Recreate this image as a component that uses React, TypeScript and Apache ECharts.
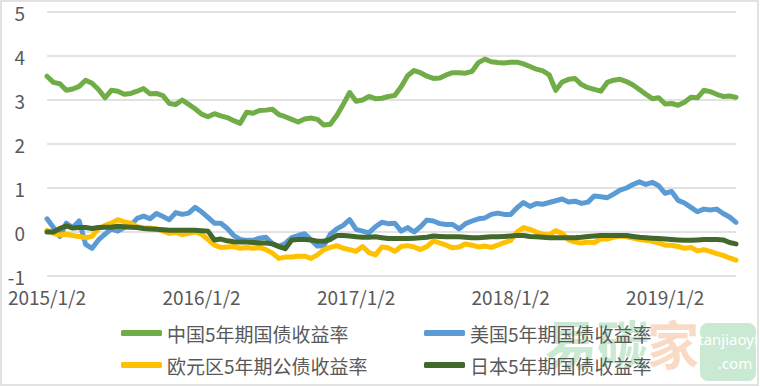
import React, { useEffect, useRef } from "react";
import * as echarts from "echarts";

// Semi-monthly sampling dates (2nd and 16th of each month), 2015/1/2 .. 2019/6/16
const years = [2015, 2016, 2017, 2018, 2019];
const days = [2, 16];
const categories: string[] = [];
for (const y of years) {
  for (let m = 1; m <= 12; m++) {
    for (const d of days) {
      if (categories.length < 108) categories.push(`${y}/${m}/${d}`);
    }
  }
}

const seriesNames = [
  "中国5年期国债收益率",
  "美国5年期国债收益率",
  "欧元区5年期公债收益率",
  "日本5年期国债收益率",
];

const china = [
  3.54, 3.40, 3.37, 3.22, 3.25, 3.31, 3.45, 3.38, 3.24, 3.05,
  3.22, 3.20, 3.13, 3.15, 3.20, 3.26, 3.14, 3.15, 3.10, 2.92,
  2.90, 3.00, 2.90, 2.80, 2.68, 2.62, 2.69, 2.64, 2.60, 2.53,
  2.47, 2.72, 2.70, 2.76, 2.77, 2.79, 2.67, 2.62, 2.56, 2.50,
  2.57, 2.59, 2.56, 2.43, 2.45, 2.65, 2.90, 3.17, 2.97, 3.00,
  3.08, 3.03, 3.04, 3.08, 3.10, 3.30, 3.55, 3.67, 3.62, 3.54,
  3.49, 3.50, 3.57, 3.62, 3.62, 3.61, 3.65, 3.85, 3.93, 3.87,
  3.85, 3.84, 3.86, 3.86, 3.82, 3.76, 3.70, 3.66, 3.57, 3.22,
  3.41, 3.47, 3.49, 3.35, 3.28, 3.24, 3.20, 3.40, 3.45, 3.47,
  3.42, 3.34, 3.24, 3.13, 3.03, 3.05, 2.91, 2.92, 2.88, 2.95,
  3.06, 3.05, 3.22, 3.19, 3.13, 3.08, 3.09, 3.06,
];

const us = [
  0.30, 0.10, -0.10, 0.20, 0.10, 0.25, -0.28, -0.37, -0.18, -0.05,
  0.07, 0.02, 0.10, 0.15, 0.31, 0.36, 0.30, 0.42, 0.35, 0.28,
  0.44, 0.40, 0.43, 0.56, 0.46, 0.33, 0.20, 0.20, 0.08, -0.08,
  -0.17, -0.19, -0.19, -0.14, -0.12, -0.26, -0.33, -0.26, -0.13, -0.08,
  -0.04, -0.18, -0.32, -0.31, -0.05, 0.07, 0.15, 0.28, 0.06, 0.02,
  -0.02, 0.12, 0.22, 0.19, 0.20, 0.02, 0.10, 0.00, 0.12, 0.27,
  0.25, 0.19, 0.17, 0.17, 0.07, 0.19, 0.25, 0.30, 0.32, 0.40,
  0.43, 0.40, 0.40, 0.55, 0.67, 0.58, 0.65, 0.63, 0.67, 0.71,
  0.75, 0.68, 0.70, 0.65, 0.68, 0.82, 0.80, 0.78, 0.86, 0.95,
  1.00, 1.08, 1.14, 1.08, 1.13, 1.05, 0.88, 0.92, 0.72, 0.66,
  0.56, 0.46, 0.52, 0.50, 0.52, 0.42, 0.34, 0.22,
];

const euro = [
  0.04, -0.03, -0.07, -0.05, -0.08, -0.10, -0.13, -0.10, 0.08, 0.15,
  0.20, 0.28, 0.23, 0.20, 0.12, 0.09, 0.09, 0.07, 0.02, -0.03,
  -0.01, -0.06, -0.03, 0.00, -0.05, -0.17, -0.30, -0.35, -0.34, -0.33,
  -0.37, -0.35, -0.37, -0.35, -0.40, -0.48, -0.60, -0.57, -0.57, -0.55,
  -0.55, -0.60, -0.52, -0.40, -0.35, -0.31, -0.37, -0.40, -0.44, -0.33,
  -0.47, -0.52, -0.34, -0.36, -0.44, -0.33, -0.31, -0.34, -0.40, -0.33,
  -0.20, -0.25, -0.30, -0.36, -0.34, -0.27, -0.30, -0.34, -0.32, -0.35,
  -0.30, -0.24, -0.19, 0.00, 0.10, 0.06, 0.00, -0.05, -0.07, 0.03,
  -0.03, -0.18, -0.23, -0.25, -0.23, -0.24, -0.16, -0.16, -0.12, -0.09,
  -0.11, -0.14, -0.17, -0.19, -0.21, -0.25, -0.30, -0.30, -0.33, -0.37,
  -0.35, -0.43, -0.40, -0.44, -0.49, -0.53, -0.59, -0.64,
];

const japan = [
  0.00, 0.00, 0.08, 0.14, 0.09, 0.10, 0.10, 0.08, 0.10, 0.11,
  0.11, 0.13, 0.12, 0.11, 0.10, 0.08, 0.07, 0.06, 0.05, 0.04,
  0.04, 0.04, 0.04, 0.04, 0.03, 0.02, -0.18, -0.16, -0.20, -0.22,
  -0.23, -0.23, -0.24, -0.25, -0.25, -0.27, -0.33, -0.38, -0.18, -0.17,
  -0.17, -0.18, -0.21, -0.21, -0.17, -0.08, -0.08, -0.09, -0.11, -0.12,
  -0.12, -0.11, -0.13, -0.15, -0.15, -0.15, -0.15, -0.14, -0.13, -0.12,
  -0.09, -0.10, -0.11, -0.11, -0.11, -0.12, -0.13, -0.13, -0.12, -0.11,
  -0.11, -0.10, -0.09, -0.08, -0.08, -0.10, -0.11, -0.12, -0.13, -0.13,
  -0.13, -0.13, -0.13, -0.12, -0.10, -0.09, -0.08, -0.08, -0.08, -0.08,
  -0.08, -0.10, -0.12, -0.13, -0.14, -0.15, -0.16, -0.17, -0.18, -0.19,
  -0.19, -0.18, -0.17, -0.17, -0.17, -0.18, -0.24, -0.27,
];

const colors = ["#70AD47", "#5B9BD5", "#FFC000", "#43682B"];
const values = [china, us, euro, japan];

const FONT = "'Noto Sans CJK SC', 'Noto Sans', sans-serif";
const GRAY = "#595959";

export default function App() {
  const ref = useRef<HTMLDivElement>(null);
  useEffect(() => {
    if (!ref.current) return;
    const chart = echarts.init(ref.current, undefined, { renderer: "svg" });
    const legendText = { color: GRAY, fontSize: 19, fontFamily: FONT, lineHeight: 22 };
    chart.setOption({
      animation: false,
      backgroundColor: "#ffffff",
      grid: { left: 47, right: 24, top: 12, bottom: 111, containLabel: false },
      xAxis: {
        type: "category",
        data: categories,
        boundaryGap: false,
        axisLine: { show: false },
        axisTick: { show: false },
        splitLine: { show: false },
        axisLabel: {
          color: GRAY,
          fontSize: 19,
          fontFamily: FONT,
          lineHeight: 19,
          margin: 11,
          interval: (_i: number, v: string) => /\/1\/2$/.test(v),
        },
      },
      yAxis: {
        type: "value",
        min: -1,
        max: 5,
        interval: 1,
        axisLine: { show: false },
        axisTick: { show: false },
        axisLabel: { color: GRAY, fontSize: 19, fontFamily: FONT, lineHeight: 18, margin: 22 },
        splitLine: { lineStyle: { color: "#D9D9D9", width: 1.5 } },
      },
      legend: [
        {
          orient: "vertical",
          left: 116,
          top: 317,
          itemWidth: 41,
          itemHeight: 6,
          itemGap: 10,
          icon: "roundRect",
          textStyle: legendText,
          data: [seriesNames[0], seriesNames[2]],
        },
        {
          orient: "vertical",
          left: 419,
          top: 317,
          itemWidth: 41,
          itemHeight: 6,
          itemGap: 10,
          icon: "roundRect",
          textStyle: legendText,
          data: [seriesNames[1], seriesNames[3]],
        },
      ],
      series: seriesNames.map((name, k) => ({
        name,
        type: "line",
        data: values[k],
        showSymbol: false,
        symbol: "none",
        color: colors[k],
        lineStyle: { width: 5, color: colors[k], cap: "round", join: "round" },
      })),
      graphic: [
        {
          type: "rect",
          shape: { x: 1, y: 1, width: 757, height: 384 },
          style: { fill: "none", stroke: "#D9D9D9", lineWidth: 1.5 },
          silent: true,
        },
        {
          type: "group",
          z: 100,
          silent: true,
          children: [
            {
              type: "text",
              x: 545,
              y: 316,
              style: {
                text: "易碳",
                font: "bold 52px 'Noto Sans CJK SC'",
                fill: "rgba(165,218,180,0.6)",
              },
            },
            {
              type: "text",
              x: 647,
              y: 316,
              style: {
                text: "家",
                font: "bold 52px 'Noto Sans CJK SC'",
                fill: "rgba(245,195,158,0.6)",
              },
            },
            {
              type: "rect",
              shape: { x: 700, y: 323, width: 56, height: 58, r: 8 },
              style: { fill: "rgba(165,218,180,0.6)" },
            },
            {
              type: "text",
              x: 728,
              y: 339,
              style: {
                text: "tanjiaoyi",
                font: "15px 'Noto Sans'",
                fill: "#ffffff",
                align: "center",
                verticalAlign: "middle",
              },
            },
            {
              type: "text",
              x: 735,
              y: 363,
              style: {
                text: ".com",
                font: "15px 'Noto Sans'",
                fill: "#ffffff",
                align: "center",
                verticalAlign: "middle",
              },
            },
          ],
        },
      ],
    });
    return () => chart.dispose();
  }, []);
  return (
    <div
      ref={ref}
      style={{ position: "absolute", left: 0, top: 0, width: 760, height: 387 }}
    />
  );
}
